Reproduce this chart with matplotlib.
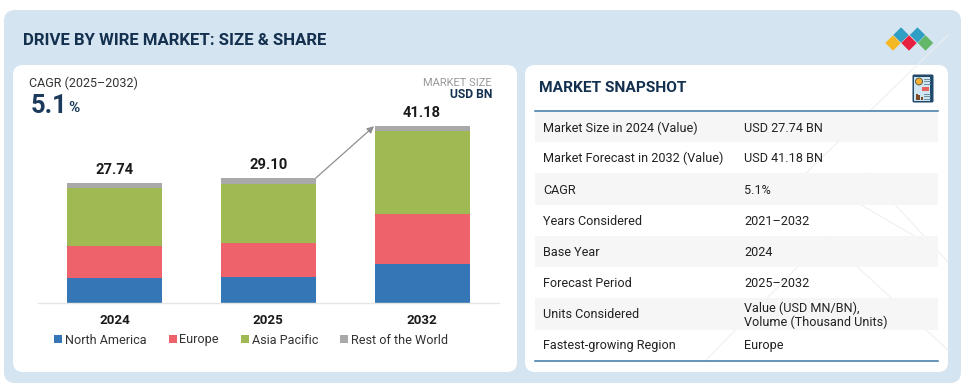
import matplotlib
matplotlib.use("Agg")
import matplotlib.pyplot as plt
from matplotlib.patches import FancyBboxPatch, Polygon, Rectangle, Patch, Wedge

plt.rcParams['font.family'] = ['Roboto', 'DejaVu Sans']

years = ['2024', '2025', '2032']
totals = [27.74, 29.10, 41.18]
north_america = [5.7, 6.0, 9.05]
europe = [7.4, 7.8, 11.65]
asia_pacific = [13.5, 13.9, 19.3]
rest_of_world = [1.14, 1.4, 1.18]
series_names = ['North America', 'Europe', 'Asia Pacific', 'Rest of the World']
series_colors = ['#3577b6', '#ee636b', '#9fba52', '#a9a9a9']
snapshot_labels = ['Market Size in 2024 (Value)', 'Market Forecast in 2032 (Value)', 'CAGR',
                   'Years Considered', 'Base Year', 'Forecast Period', 'Units Considered',
                   'Fastest-growing Region']
snapshot_values = ['USD 27.74 BN', 'USD 41.18 BN', '5.1%', '2021–2032', '2024', '2025–2032',
                   'Value (USD MN/BN),\nVolume (Thousand Units)', 'Europe']

W, H = 969, 385
NAVY = '#14304f'
fig = plt.figure(figsize=(W / 100, H / 100), dpi=100, facecolor='white')
bg = fig.add_axes([0, 0, 1, 1], zorder=0)
bg.set_xlim(0, W)
bg.set_ylim(H, 0)
bg.axis('off')


def card(x0, y0, x1, y1, r, color, z=1):
    bg.add_patch(FancyBboxPatch((x0 + r, y0 + r), x1 - x0 - 2 * r, y1 - y0 - 2 * r,
                                boxstyle=f'round,pad={r},rounding_size={r}',
                                fc=color, ec='none', zorder=z))


card(4, 10, 961, 383, 11, '#d5e4f1')
card(13, 65, 517, 372, 10, 'white', 2)
card(525, 65, 948, 372, 10, 'white', 2)

# Title and header texts
bg.text(23.5, 40.5, 'DRIVE BY WIRE MARKET: SIZE & SHARE', fontsize=12.07, fontweight='bold',
        color=NAVY, va='center', ha='left', zorder=5)
bg.text(29, 83, 'CAGR (2025–2032)', fontsize=9, color='#333333', va='center', zorder=5)
bg.text(31, 106, '5.1', fontsize=18.4, fontweight='bold', color='#1b3a5c', va='center', zorder=5)
bg.text(68, 107.5, '%', fontsize=11, fontweight='bold', color='#1b3a5c', va='center', zorder=5)
bg.text(492, 82.5, 'MARKET SIZE', fontsize=8, color='#999999', ha='right', va='center', zorder=5)
bg.text(492, 95, 'USD BN', fontsize=8.7, fontweight='bold', color=NAVY, ha='right', va='center', zorder=5)

# Faint decorative lines on the right card
for x0, y0, x1, y1 in [(806, 173, 948, 35), (806, 173, 918, 238), (866, 173, 948, 262),
                       (706, 360, 826, 238), (826, 238, 948, 350)]:
    bg.plot([x0, x1], [y0, y1], color='#eeeeee', lw=0.7, zorder=3)

# Snapshot table
bg.text(539, 88.5, 'MARKET SNAPSHOT', fontsize=11.15, fontweight='bold', color=NAVY, va='center', zorder=5)
edges = [112, 142, 173, 205, 236, 267, 298, 330, 360]
for i, (lab, val) in enumerate(zip(snapshot_labels, snapshot_values)):
    top, bot = edges[i], edges[i + 1]
    if i % 2 == 0:
        bg.add_patch(Rectangle((535, top), 403, bot - top, fc='#f6f6f6', ec='none', alpha=0.9, zorder=4))
    yc = (top + bot) / 2 + 1
    bg.text(543, yc, lab, fontsize=9.05, color='#222222', va='center', zorder=5)
    bg.text(744.5, yc, val, fontsize=9.05, color='#222222', va='center', zorder=5, linespacing=1.05)
bg.plot([535, 938], [110.5, 110.5], color='#3c78a8', lw=1.1, zorder=5)
bg.plot([535, 938], [361, 361], color='#3c78a8', lw=1.1, zorder=5)


# Logo
def diamond(cx, cy, r, color, z=6):
    bg.add_patch(Polygon([(cx - r, cy), (cx, cy - r), (cx + r, cy), (cx, cy + r)], fc=color, ec='none', zorder=z))


for cx, cy, col in [(901, 35, '#2f9fc4'), (917.5, 35, '#2f9fc4'), (893, 43, '#f4b824'),
                    (909, 43, '#e8203f'), (925.5, 43, '#62b868')]:
    diamond(cx, cy, 7.7, col)

# Report icon
bg.add_patch(FancyBboxPatch((912.5, 74.5), 21, 28, boxstyle='round,pad=0,rounding_size=1.5',
                            fc='#1f4a6b', ec='none', zorder=6))
bg.add_patch(Rectangle((914, 76.5), 16.5, 24, fc='#cfe6f2', ec='none', zorder=7))
bg.add_patch(Wedge((919, 81.5), 3.5, 0, 360, fc='#f2b035', ec='#3a3a3a', lw=0.5, zorder=8))
bg.add_patch(Rectangle((922, 87), 7, 4, fc='#e8605a', ec='none', zorder=8))
for y in [78.5, 81, 83.5, 93.5, 96, 98.5]:
    bg.plot([924, 930], [y, y], color='#5d7f93', lw=0.6, zorder=8)
for x, h in [(916, 6), (918.5, 4.5), (921, 3)]:
    bg.add_patch(Rectangle((x, 99.5 - h), 1.8, h, fc='#7a4b2a', ec='none', zorder=8))

# Bar chart axes: pixel box fixes the scale
base_px, top_px, left_px, right_px = 302.5, 113.7, 37.6, 498.9
ax = fig.add_axes([left_px / W, 1 - base_px / H, (right_px - left_px) / W, (base_px - top_px) / H], zorder=10)
ax.patch.set_alpha(0)
ax.set_xlim(-0.5, 2.5)
ax.set_ylim(0, 44)

x = list(range(len(years)))
bw = 0.618
bottom = [0.0, 0.0, 0.0]
for name, vals, col in zip(series_names, [north_america, europe, asia_pacific, rest_of_world], series_colors):
    ax.bar(x, vals, bw, bottom=bottom, color=col, label=name, linewidth=0)
    bottom = [b + v for b, v in zip(bottom, vals)]

for xi, t, b in zip(x, totals, bottom):
    ax.text(xi, b + 1.4, f'{t:.2f}', ha='center', va='bottom', fontsize=10.6, fontweight='bold', color='#1a1a1a')

ax.annotate('', xy=(2 - bw / 2 - 0.003, bottom[2] - 0.1), xytext=(1 + bw / 2, bottom[1] - 0.1),
            arrowprops=dict(arrowstyle='-|>', color='#8f8f8f', lw=0.9, mutation_scale=10,
                            shrinkA=0, shrinkB=0))

for s in ['top', 'left', 'right']:
    ax.spines[s].set_visible(False)
ax.spines['bottom'].set_color('#e6e6e6')
ax.spines['bottom'].set_linewidth(1)
ax.set_yticks([])
ax.set_xticks(x, years)
ax.tick_params(axis='x', length=0, pad=8.5, labelsize=9.6, labelcolor='#1a1a1a')
for lab in ax.get_xticklabels():
    lab.set_fontweight('bold')

handles = [Patch(fc=c, ec='none', label=n) for n, c in zip(series_names, series_colors)]
fig.legend(handles=handles, ncol=4, frameon=False, loc='center left',
           bbox_to_anchor=(54 / W, 1 - 340 / H), fontsize=9.05, labelcolor='#333333',
           handlelength=0.64, handleheight=0.64, handletextpad=0.2, columnspacing=1.78,
           borderpad=0, borderaxespad=0)

fig.savefig('out.png', dpi=100)
